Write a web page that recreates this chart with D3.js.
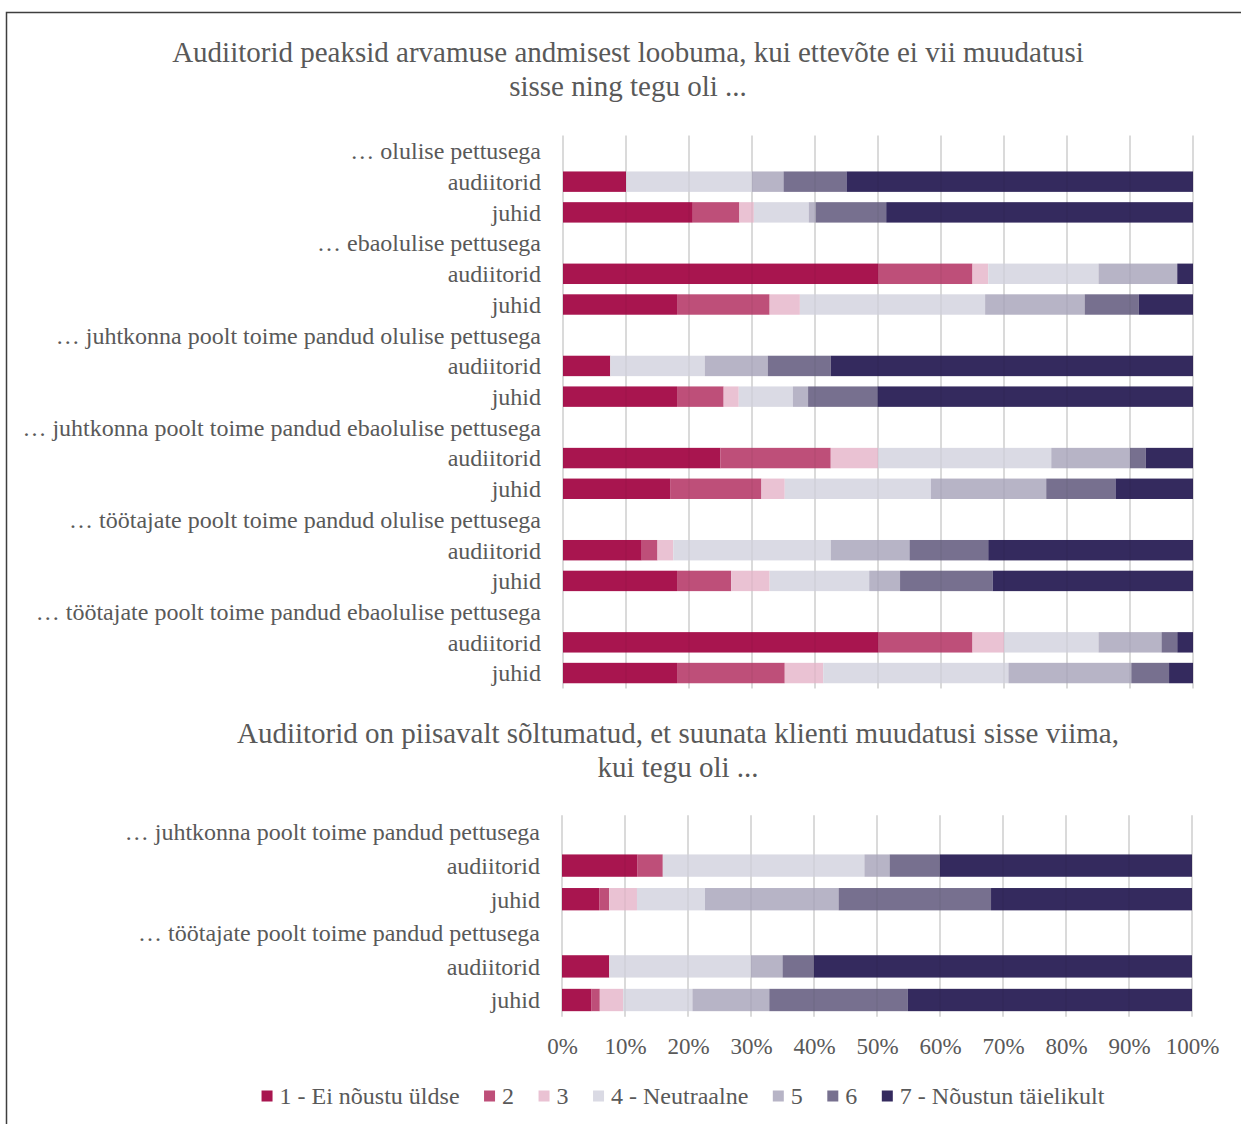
<!DOCTYPE html>
<html lang="et">
    <head>
        <meta charset="utf-8">
        <title>Audiitorid ja juhid</title>
        <script type="text/javascript" src="https://cdn.jsdelivr.net/npm/d3@7"></script>
        <style>
            body { margin: 0; background: white; }
            svg text { font-family: "Liberation Serif", "Times New Roman", serif; fill: #595959; }
        </style>
    </head>
    <body>
        <script type="text/javascript">

            // answer scale and colours
            var levels = ["1 - Ei nõustu üldse", "2", "3", "4 - Neutraalne", "5", "6", "7 - Nõustun täielikult"];
            var colors = ["#a8154f", "#be4f79", "#eac2d3", "#dadae4", "#b7b4c6", "#77708f", "#342a5e"];
            var respondents = ["audiitorid", "juhid"];

            // first chart
            var title1 = ["Audiitorid peaksid arvamuse andmisest loobuma, kui ettevõte ei vii muudatusi", "sisse ning tegu oli ..."];
            var groups1 = [
                "… olulise pettusega",
                "… ebaolulise pettusega",
                "…  juhtkonna poolt toime pandud olulise pettusega",
                "… juhtkonna poolt toime pandud ebaolulise pettusega",
                "… töötajate poolt toime pandud olulise pettusega",
                "… töötajate poolt toime pandud ebaolulise pettusega"
            ];
            var audiitorid1 = [
                [10, 0, 0, 20, 5, 10, 55],
                [50, 15, 2.5, 17.5, 12.5, 0, 2.5],
                [7.5, 0, 0, 15, 10, 10, 57.5],
                [25, 17.5, 7.5, 27.5, 12.5, 2.5, 7.5],
                [12.5, 2.5, 2.5, 25, 12.5, 12.5, 32.5],
                [50, 15, 5, 15, 10, 2.5, 2.5]
            ];
            var juhid1 = [
                [20.6, 7.4, 2.3, 8.7, 1.1, 11.2, 48.7],
                [18.1, 14.7, 4.8, 29.4, 15.8, 8.6, 8.6],
                [18.1, 7.4, 2.4, 8.6, 2.4, 11.0, 50.1],
                [17.0, 14.5, 3.7, 23.2, 18.3, 11.0, 12.3],
                [18.1, 8.6, 6.1, 15.8, 4.9, 14.7, 31.8],
                [18.1, 17.1, 6.1, 29.4, 19.5, 6.0, 3.8]
            ];

            // second chart
            var title2 = ["Audiitorid on piisavalt sõltumatud, et suunata klienti muudatusi sisse viima,", "kui tegu oli ..."];
            var groups2 = [
                "… juhtkonna poolt toime pandud pettusega",
                "… töötajate poolt toime pandud pettusega"
            ];
            var audiitorid2 = [
                [12, 4, 0, 32, 4, 8, 40],
                [7.5, 0, 0, 22.5, 5, 5, 60]
            ];
            var juhid2 = [
                [5.9, 1.6, 4.4, 10.8, 21.2, 24.2, 31.9],
                [4.7, 1.3, 3.7, 11.0, 12.2, 22.0, 45.1]
            ];

            var w = 1241, h = 1124;
            var svg = d3.select("body").append("svg").attr("width", w).attr("height", h);

            // frame (only top and left edges fall inside the picture)
            svg.append("path")
                .attr("d", "M6.5," + h + "V12.5H" + w)
                .attr("fill", "none")
                .attr("stroke", "#3f3f3f")
                .attr("stroke-width", 1.5);

            function buildRows(groups, aud, juh) {
                var rows = [];
                groups.forEach(function(g, i) {
                    rows.push({ label: g, values: null });
                    rows.push({ label: respondents[0], values: aud[i] });
                    rows.push({ label: respondents[1], values: juh[i] });
                });
                return rows;
            }

            function drawTitle(lines, cx, y0) {
                svg.append("text")
                    .attr("text-anchor", "middle")
                    .attr("font-size", "29px")
                    .selectAll("tspan").data(lines).enter().append("tspan")
                    .attr("x", cx)
                    .attr("y", function(d, i) { return y0 + i * 34; })
                    .text(function(d) { return d; });
            }

            function drawChart(rows, x, yTop, yBottom, labelX, showAxis) {
                var y = d3.scaleBand()
                    .domain(d3.range(rows.length))
                    .range([yTop, yBottom])
                    .paddingInner(0.335)
                    .paddingOuter(0.1675);

                var g = svg.append("g");

                // gridlines
                g.selectAll("line.grid")
                    .data(x.ticks(10))
                    .enter().append("line")
                    .attr("class", "grid")
                    .attr("x1", function(d) { return x(d); })
                    .attr("x2", function(d) { return x(d); })
                    .attr("y1", yTop)
                    .attr("y2", yBottom)
                    .attr("stroke", "#d9d9d9")
                    .attr("stroke-width", 1.5);

                // stacked bars
                var stack = d3.stack().keys(d3.range(7))
                    .value(function(d, k) { return d.values[k] / 100; });
                var barRows = rows.map(function(r, i) { return { idx: i, values: r.values }; })
                    .filter(function(r) { return r.values; });
                var series = stack(barRows);

                g.selectAll("g.series")
                    .data(series)
                    .enter().append("g")
                    .attr("class", "series")
                    .attr("fill", function(d) { return colors[d.key]; })
                    .selectAll("rect")
                    .data(function(d) { return d; })
                    .enter().append("rect")
                    .attr("x", function(d) { return x(d[0]); })
                    .attr("y", function(d) { return y(d.data.idx); })
                    .attr("width", function(d) { return Math.max(0, x(d[1]) - x(d[0])); })
                    .attr("height", y.bandwidth());

                // faint gridlines showing through the bars
                g.selectAll("line.over")
                    .data(x.ticks(10))
                    .enter().append("line")
                    .attr("class", "over")
                    .attr("x1", function(d) { return x(d); })
                    .attr("x2", function(d) { return x(d); })
                    .attr("y1", yTop)
                    .attr("y2", yBottom)
                    .attr("stroke", "#000")
                    .attr("stroke-opacity", 0.05)
                    .attr("stroke-width", 1.5);

                // row labels
                g.selectAll("text.label")
                    .data(rows)
                    .enter().append("text")
                    .attr("class", "label")
                    .attr("x", labelX)
                    .attr("y", function(d, i) { return y(i) + y.bandwidth() / 2; })
                    .attr("dy", "0.35em")
                    .attr("text-anchor", "end")
                    .attr("font-size", "24px")
                    .text(function(d) { return d.label; });

                if (showAxis) {
                    var axis = d3.axisBottom(x).ticks(10).tickFormat(d3.format(".0%")).tickSize(0).tickPadding(0);
                    var ax = svg.append("g")
                        .attr("transform", "translate(0," + (yBottom + 37) + ")")
                        .call(axis);
                    ax.select(".domain").remove();
                    ax.selectAll("text")
                        .attr("font-size", "23px")
                        .attr("font-family", "Liberation Serif, serif")
                        .attr("fill", "#595959")
                        .attr("dy", "0");
                }
            }

            var x1 = d3.scaleLinear().domain([0, 1]).range([563, 1193]);
            var x2 = d3.scaleLinear().domain([0, 1]).range([562, 1192]);

            drawTitle(title1, 628, 62);
            drawChart(buildRows(groups1, audiitorid1, juhid1), x1, 135.6, 688.4, 541, false);

            drawTitle(title2, 678, 743);
            drawChart(buildRows(groups2, audiitorid2, juhid2), x2, 815.2, 1016.8, 540, true);

            // legend
            var gap = 24.5;
            var legend = svg.append("g").attr("transform", "translate(0,1096)");
            var items = legend.selectAll("g.item")
                .data(levels)
                .enter().append("g")
                .attr("class", "item");
            items.append("rect")
                .attr("width", 11)
                .attr("height", 11)
                .attr("y", -5.5)
                .attr("fill", function(d, i) { return colors[i]; });
            items.append("text")
                .attr("x", 18)
                .attr("dy", "0.35em")
                .attr("font-size", "24px")
                .text(function(d) { return d; });

            var offsets = [], pos = 0;
            items.each(function() {
                offsets.push(pos);
                pos += 18 + d3.select(this).select("text").node().getComputedTextLength() + gap;
            });
            var total = pos - gap;
            var start = 683 - total / 2;
            items.attr("transform", function(d, i) { return "translate(" + (start + offsets[i]) + ",0)"; });

        </script>
    </body>
</html>
